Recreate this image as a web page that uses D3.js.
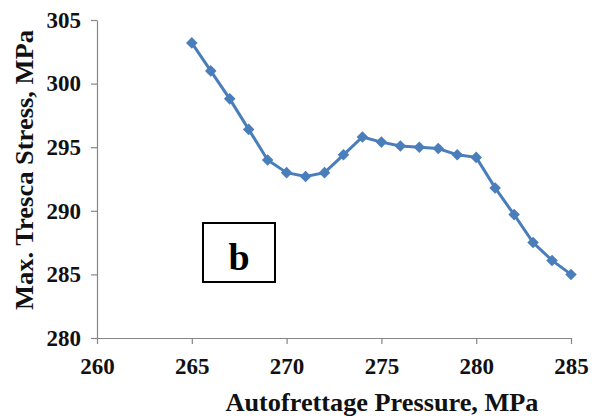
<!DOCTYPE html>
<html>
<head>
<meta charset="utf-8">
<script src="https://cdn.jsdelivr.net/npm/d3@7"></script>
<style>
  body { margin: 0; background: #fff; }
</style>
</head>
<body>
<div id="chart"></div>
<script>
// data
let pressure = [265, 266, 267, 268, 269, 270, 271, 272, 273, 274, 275, 276, 277, 278, 279, 280, 281, 282, 283, 284, 285]
let stress = [303.2, 301.0, 298.8, 296.4, 294.0, 293.0, 292.7, 293.0, 294.4, 295.8, 295.4, 295.1, 295.0, 294.9, 294.4, 294.2, 291.8, 289.7, 287.5, 286.1, 285.0]
let xTicks = [260, 265, 270, 275, 280, 285]
let yTicks = [280, 285, 290, 295, 300, 305]

let serif = "'Liberation Serif', 'Times New Roman', Times, serif";

let margin = {top: 20, right: 25, bottom: 80, left: 97};
let width = 596 - margin.left - margin.right;
let height = 418 - margin.top - margin.bottom;

let svg = d3.select("#chart").append("svg")
    .attr("width", 596)
    .attr("height", 418)
    .append("g")
    .attr("transform", `translate(${margin.left}, ${margin.top})`);

let x = d3.scaleLinear().domain([260, 285]).range([0, width]);
let y = d3.scaleLinear().domain([280, 305]).range([height, 0]);

// axes
let xAxis = svg.append("g")
    .attr("transform", "translate(0," + height + ")")
    .call(d3.axisBottom(x).tickValues(xTicks).tickSize(6).tickSizeOuter(0).tickPadding(9));
let yAxis = svg.append("g")
    .call(d3.axisLeft(y).tickValues(yTicks).tickSize(6).tickSizeOuter(0).tickPadding(10));

svg.selectAll(".domain, .tick line").attr("stroke", "#868686").attr("stroke-width", 1.2);
svg.selectAll(".tick text")
    .style("font-size", "23px")
    .style("font-family", serif)
    .style("font-weight", "bold")
    .attr("fill", "#111");
xAxis.selectAll(".tick text").attr("dy", "0.9em");

// axis titles
svg.append("text")
    .attr("x", 382 - margin.left)
    .attr("y", 411 - margin.top)
    .attr("text-anchor", "middle")
    .attr("textLength", 313)
    .attr("lengthAdjust", "spacingAndGlyphs")
    .style("font-size", "26px")
    .style("font-family", serif)
    .style("font-weight", "bold")
    .attr("fill", "#111")
    .text("Autofrettage Pressure, MPa");

svg.append("text")
    .attr("transform", `translate(${33 - margin.left}, ${170 - margin.top}) rotate(-90)`)
    .attr("text-anchor", "middle")
    .attr("textLength", 280)
    .attr("lengthAdjust", "spacingAndGlyphs")
    .style("font-size", "26px")
    .style("font-family", serif)
    .style("font-weight", "bold")
    .attr("fill", "#111")
    .text("Max. Tresca Stress, MPa");

// line
let line = d3.line()
    .x((d, i) => x(pressure[i]))
    .y(d => y(d));

svg.append("path")
    .datum(stress)
    .attr("fill", "none")
    .attr("stroke", "#4a7ebb")
    .attr("stroke-width", 3)
    .attr("d", line);

svg.selectAll(".pt")
    .data(stress)
    .enter().append("path")
    .attr("class", "pt")
    .attr("transform", (d, i) => `translate(${x(pressure[i])}, ${y(d)})`)
    .attr("d", d3.symbol().type(d3.symbolDiamond2).size(85))
    .attr("fill", "#4a7ebb");

// "b" label box
svg.append("rect")
    .attr("x", 203 - margin.left)
    .attr("y", 223 - margin.top)
    .attr("width", 72)
    .attr("height", 59)
    .attr("fill", "none")
    .attr("stroke", "#000")
    .attr("stroke-width", 2);

svg.append("text")
    .attr("x", 239 - margin.left)
    .attr("y", 270 - margin.top)
    .attr("text-anchor", "middle")
    .style("font-size", "38px")
    .style("font-family", serif)
    .style("font-weight", "bold")
    .attr("fill", "#000")
    .text("b");
</script>
</body>
</html>
